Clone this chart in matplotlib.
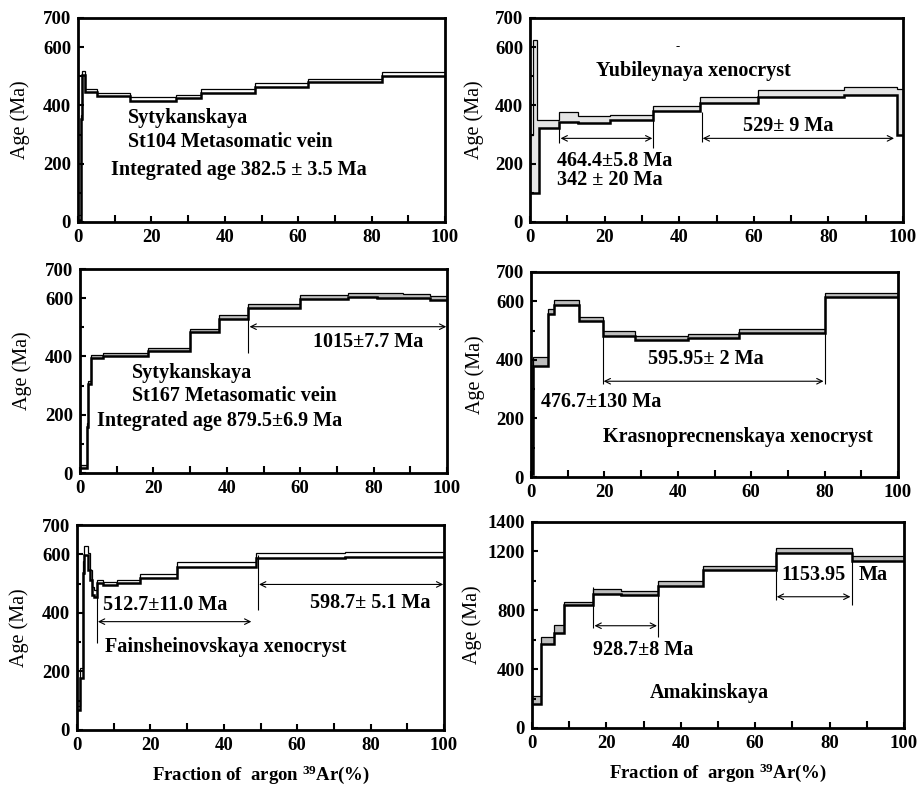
import matplotlib
matplotlib.use('Agg')
import matplotlib.pyplot as plt
from matplotlib.ticker import MultipleLocator, FixedLocator

plt.rcParams['font.family'] = ['Liberation Serif', 'DejaVu Serif']
plt.rcParams['mathtext.fontset'] = 'custom'
plt.rcParams['mathtext.rm'] = 'Liberation Serif:bold'
plt.rcParams['mathtext.bf'] = 'Liberation Serif:bold'

# ── data: step edges (% 39Ar released), apparent ages (Ma), half-widths ───────
st104_edges = [0, 0.7, 1.2, 2.0, 5.1, 14.2, 26.7, 33.5, 48.2, 62.7, 82.7, 100]
st104_age = [15, 360, 510, 451, 436, 422, 430, 450, 470, 486, 509]
st104_err = [8, 8, 7, 5, 5, 6, 6, 6, 6, 6, 7]

yub_edges = [0, 0.7, 1.8, 2.4, 7.9, 13.0, 21.5, 33.1, 45.6, 61.1, 84.3, 98.4, 100]
yub_age = [200, 362, 225, 336, 360, 352, 358, 390, 420, 440, 450, 378]
yub_err = [100, 262, 125, 14, 16, 12, 9, 8, 10, 12, 14, 80]

st167_edges = [0, 1.8, 2.2, 3.0, 6.2, 18.5, 30, 37.9, 45.9, 60, 73, 81, 88, 95.5, 100]
st167_age = [22, 165, 310, 400, 407, 424, 490, 535, 572, 604, 610, 609, 607, 602]
st167_err = [5, 8, 5, 6, 5, 5, 5, 6, 7, 7, 7, 7, 7, 7]

kras_edges = [0, 0.5, 4.5, 6.4, 13.2, 19.5, 28.4, 42.7, 56.8, 80, 100]
kras_age = [60, 395, 566, 597, 540, 489, 474, 482, 499, 622]
kras_err = [50, 15, 9, 8, 8, 8, 7, 7, 7, 7]

fain_edges = [0, 0.8, 1.5, 2.0, 2.9, 3.5, 4.1, 4.6, 5.4, 7.2, 10.9, 17.1, 27.2, 48.8, 72.9, 100]
fain_age = [75, 195, 556, 612, 575, 530, 475, 465, 506, 500, 508, 525, 565, 596, 600]
fain_err = [8, 18, 20, 15, 28, 17, 14, 12, 5, 5, 5, 7, 7, 7, 8]

amak_edges = [0, 2.3, 5.8, 8.5, 16.3, 24, 34, 46, 65.5, 86, 100]
amak_age = [192, 596, 674, 846, 931, 918, 982, 1087, 1205, 1151]
amak_err = [27, 25, 26, 12, 17, 15, 16, 15, 15, 15]

yticks_700 = [0, 200, 400, 600, 700]
yticks_1400 = [0, 400, 800, 1200, 1400]
xticks = [0, 20, 40, 60, 80, 100]

W, H = 917, 790
BOLD = dict(fontweight='bold', fontsize=14.5)
XLABEL = r'Fraction of  argon $\mathregular{^{39}}$Ar(%)'


# ── helpers ───────────────────────────────────────────────────────────────────
def panel(fig, x0, y0, x1, y1):
    # pixel box (top-left origin) -> figure fraction
    return fig.add_axes([x0 / W, 1 - y1 / H, (x1 - x0) / W, (y1 - y0) / H])


def spectrum(ax, edges, ages, errs, fill):
    upper = [a + e for a, e in zip(ages, errs)]
    lower = [a - e for a, e in zip(ages, errs)]
    ax.stairs(upper, edges, baseline=lower, fill=True, color=fill, lw=0)
    ax.stairs(upper, edges, baseline=None, color='black', lw=0.9)
    ax.stairs(lower, edges, baseline=None, color='black', lw=1.8)


def style(ax, yticks, ymax, pad):
    ax.set_xlim(0, 100)
    ax.set_ylim(0, ymax)
    ax.set_xticks(xticks)
    ax.xaxis.set_minor_locator(MultipleLocator(10))
    ax.set_yticks(yticks)
    step = yticks[1]
    ax.yaxis.set_minor_locator(FixedLocator(
        [v + step / 2 for v in yticks[:-2]]))
    ax.tick_params(which='both', direction='in', width=1.5)
    ax.tick_params(which='major', length=4, labelsize=13.5, pad=5)
    ax.tick_params(axis='x', which='minor', length=5)
    ax.tick_params(axis='y', which='minor', length=3)
    for lab in ax.get_xticklabels() + ax.get_yticklabels():
        lab.set_fontweight('bold')
    for sp in ax.spines.values():
        sp.set_linewidth(2.0)
    ax.set_ylabel('Age (Ma)', fontsize=14.5, labelpad=pad)


def plateau(ax, x0, x1, y):
    ax.annotate('', xy=(x1, y), xytext=(x0, y),
                arrowprops=dict(arrowstyle='<->', lw=0.8, color='black',
                                shrinkA=0, shrinkB=0, mutation_scale=10))


fig = plt.figure(figsize=(W / 100, H / 100), dpi=100)

# ── Panel 1: Sytykanskaya St104 ───────────────────────────────────────────────
ax = panel(fig, 78, 18, 445, 222)
spectrum(ax, st104_edges, st104_age, st104_err, 'white')
style(ax, yticks_700, 700, 9)
ax.text(13.6, 356, 'Sytykanskaya', va='center', **BOLD)
ax.text(13.6, 276, 'St104 Metasomatic vein', va='center', **BOLD)
ax.text(9.1, 178, 'Integrated age 382.5 ± 3.5 Ma', va='center', **BOLD)

# ── Panel 2: Yubileynaya xenocryst ────────────────────────────────────────────
ax = panel(fig, 530, 18, 903, 222)
spectrum(ax, yub_edges, yub_age, yub_err, '#e4e4e4')
style(ax, yticks_700, 700, 8)
ax.text(39.6, 600, '-', ha='center', va='center', fontsize=9)
ax.text(43.8, 517, 'Yubileynaya xenocryst', ha='center', va='center', **BOLD)
ax.vlines(7.9, 270, 336, color='black', lw=0.8)
ax.vlines(33.1, 253, 373, color='black', lw=0.8)
plateau(ax, 8.2, 32.8, 287)
ax.vlines(46.0, 276, 379, color='black', lw=0.8)
plateau(ax, 46.3, 97.6, 287)
ax.text(22.8, 210, '464.4±5.8 Ma', ha='center', va='center', **BOLD)
ax.text(21.5, 143, '342 ± 20 Ma', ha='center', va='center', **BOLD)
ax.text(69.3, 331, '529± 9 Ma', ha='center', va='center', **BOLD)

# ── Panel 3: Sytykanskaya St167 ───────────────────────────────────────────────
ax = panel(fig, 80, 269, 447, 473)
spectrum(ax, st167_edges, st167_age, st167_err, '#bdbdbd')
style(ax, yticks_700, 700, 9)
ax.vlines(45.9, 411, 565, color='black', lw=0.8)
plateau(ax, 46.2, 99.8, 502)
ax.text(78.6, 449, '1015±7.7 Ma', ha='center', va='center', **BOLD)
ax.text(14.1, 343, 'Sytykanskaya', va='center', **BOLD)
ax.text(14.1, 263, 'St167 Metasomatic vein', va='center', **BOLD)
ax.text(4.5, 177, 'Integrated age 879.5±6.9 Ma', va='center', **BOLD)

# ── Panel 4: Krasnoprecnenskaya xenocryst ─────────────────────────────────────
ax = panel(fig, 531, 272, 898, 477)
spectrum(ax, kras_edges, kras_age, kras_err, '#bdbdbd')
style(ax, yticks_700, 700, 8)
ax.vlines(19.5, 319, 481, color='black', lw=0.8)
ax.vlines(80.0, 319, 492, color='black', lw=0.8)
plateau(ax, 19.8, 79.7, 327)
ax.text(47.7, 404, '595.95± 2 Ma', ha='center', va='center', **BOLD)
ax.text(19.1, 256, '476.7±130 Ma', ha='center', va='center', **BOLD)
ax.text(56.4, 137, 'Krasnoprecnenskaya xenocryst', ha='center', va='center', **BOLD)

# ── Panel 5: Fainsheinovskaya xenocryst ───────────────────────────────────────
ax = panel(fig, 77, 525, 444, 730)
spectrum(ax, fain_edges, fain_age, fain_err, 'white')
style(ax, yticks_700, 700, 9)
ax.vlines(5.4, 296, 467, color='black', lw=0.8)
plateau(ax, 5.7, 47.5, 370)
ax.vlines(49.3, 410, 598, color='black', lw=0.8)
plateau(ax, 49.6, 99.8, 497)
ax.text(24.0, 427, '512.7±11.0 Ma', ha='center', va='center', **BOLD)
ax.text(79.9, 432, '598.7± 5.1 Ma', ha='center', va='center', **BOLD)
ax.text(40.4, 285, 'Fainsheinovskaya xenocryst', ha='center', va='center', **BOLD)
ax.set_xlabel(XLABEL, fontsize=13.5, fontweight='bold', labelpad=7)

# ── Panel 6: Amakinskaya ──────────────────────────────────────────────────────
ax = panel(fig, 532, 522, 904, 728)
spectrum(ax, amak_edges, amak_age, amak_err, '#bdbdbd')
style(ax, yticks_1400, 1400, 4)
ax.vlines(16.3, 677, 955, color='black', lw=0.8)
ax.vlines(34.0, 621, 903, color='black', lw=0.8)
plateau(ax, 16.8, 33.6, 695)
ax.text(29.9, 530, '928.7±8 Ma', ha='center', va='center', **BOLD)
ax.text(47.6, 237, 'Amakinskaya', ha='center', va='center', **BOLD)
ax.vlines(65.5, 869, 1095, color='black', lw=0.8)
ax.vlines(86.0, 835, 1151, color='black', lw=0.8)
plateau(ax, 65.8, 85.6, 892)
ax.text(75.6, 1039, '1153.95', ha='center', va='center', **BOLD)
ax.text(91.7, 1039, 'Ma', ha='center', va='center', **BOLD)
ax.set_xlabel(XLABEL, fontsize=13.5, fontweight='bold', labelpad=7)

fig.savefig('out.png', dpi=100)
